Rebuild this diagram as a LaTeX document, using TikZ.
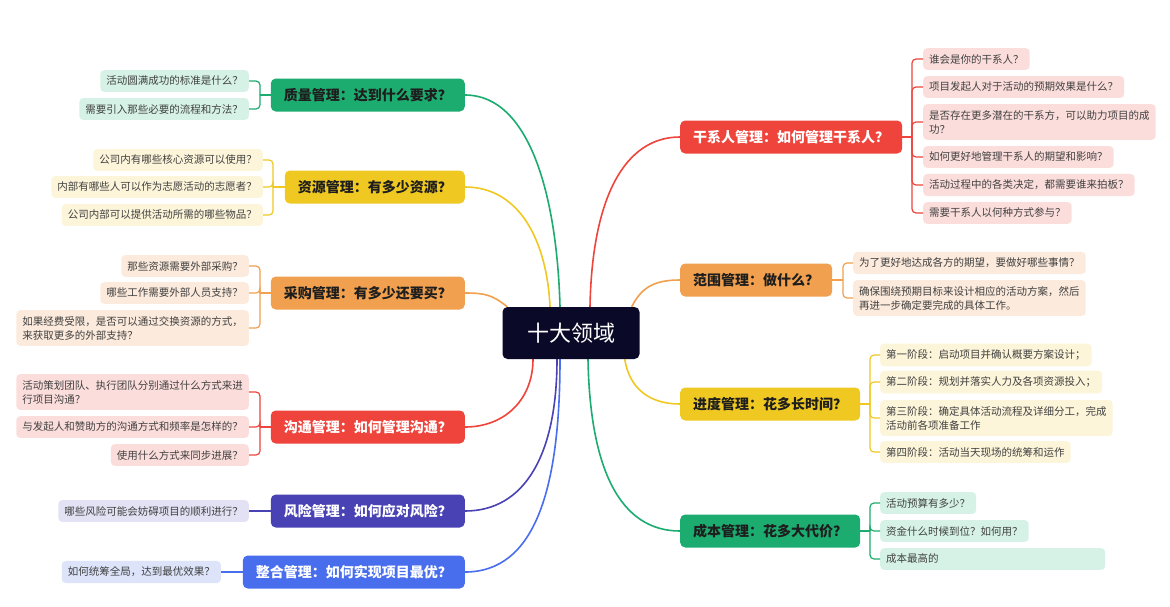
\documentclass[tikz,border=0pt]{standalone}
\usepackage{fontspec}
\setmainfont{Noto Sans CJK SC}
\usepackage{xcolor}
\usepackage{tikz}
\usetikzlibrary{backgrounds}
\definecolor{hubcol}{RGB}{10,10,40}
\definecolor{grn}{RGB}{28,172,112}
\definecolor{grnl}{RGB}{214,242,231}
\definecolor{ylw}{RGB}{240,200,34}
\definecolor{ylwl}{RGB}{253,245,218}
\definecolor{org}{RGB}{240,160,78}
\definecolor{orgl}{RGB}{252,234,220}
\definecolor{rd}{RGB}{238,68,60}
\definecolor{rdl}{RGB}{251,222,220}
\definecolor{ind}{RGB}{72,66,180}
\definecolor{indl}{RGB}{226,226,244}
\definecolor{blu}{RGB}{72,110,238}
\definecolor{blul}{RGB}{221,228,250}
\definecolor{leaftext}{RGB}{64,64,64}
\definecolor{darktext}{RGB}{30,30,30}

\begin{document}
\begin{tikzpicture}[x=1pt, y=-1pt, every node/.style={inner sep=0pt},
  hub/.style={fill=hubcol, text=white, rounded corners=5pt, minimum width=137pt,
    minimum height=52pt, font=\fontsize{22}{26}\selectfont},
  topic/.style={fill=#1, text=darktext, rounded corners=5pt, minimum height=33pt,
    inner xsep=13pt, font=\fontsize{14}{17}\selectfont\bfseries},
  leaf/.style={fill=#1, text=leaftext, rounded corners=4pt, inner xsep=6pt,
    inner ysep=6pt, align=left, font=\fontsize{10.5}{14}\selectfont},
  link/.style={#1, line width=1.6pt},
  brace/.style={#1, line width=1.2pt, rounded corners=4pt}]
\useasboundingbox (0,0) rectangle (1170,606);
\node[hub] (hub) at (571,333) {十大领域};
% left topics
\node[topic=grn, anchor=east] (qual) at (465,95) {质量管理：达到什么要求？};
\node[topic=ylw, anchor=east] (res) at (465,187) {资源管理：有多少资源？};
\node[topic=org, anchor=east] (buy) at (465,293) {采购管理：有多少还要买？};
\node[topic=rd, text=white, anchor=east] (comm) at (465,427) {沟通管理：如何管理沟通？};
\node[topic=ind, text=white, anchor=east] (risk) at (465,511) {风险管理：如何应对风险？};
\node[topic=blu, text=white, anchor=east] (integ) at (465,572) {整合管理：如何实现项目最优？};
% right topics
\node[topic=rd, text=white, anchor=west] (stake) at (680,137) {干系人管理：如何管理干系人？};
\node[topic=org, anchor=west] (range) at (680,280) {范围管理：做什么？};
\node[topic=ylw, anchor=west] (sched) at (680,404) {进度管理：花多长时间？};
\node[topic=grn, anchor=west] (cost) at (680,531) {成本管理：花多大代价？};

% left leaves
\coordinate (qualb) at (260,95);
\draw[brace=grn] (qual.west) -- (qualb);
\foreach \y/\t [count=\i] in {81/活动圆满成功的标准是什么？, 109/需要引入那些必要的流程和方法？} {
  \node[leaf=grnl, anchor=east] (qual\i) at (249,\y) {\t};
  \draw[brace=grn] (qualb) |- (qual\i.east);
}
\coordinate (resb) at (273,187);
\draw[brace=ylw] (res.west) -- (resb);
\foreach \y/\t [count=\i] in {160/公司内有哪些核心资源可以使用？, 187/内部有哪些人可以作为志愿活动的志愿者？,
    215/公司内部可以提供活动所需的哪些物品？} {
  \node[leaf=ylwl, anchor=east] (res\i) at (263,\y) {\t};
  \draw[brace=ylw] (resb) |- (res\i.east);
}
\coordinate (buyb) at (260,293);
\draw[brace=org] (buy.west) -- (buyb);
\foreach \y/\t [count=\i] in {266/那些资源需要外部采购？, 293/哪些工作需要外部人员支持？,
    328/{如果经费受限，是否可以通过交换资源的方式，\\来获取更多的外部支持？}} {
  \node[leaf=orgl, anchor=east] (buy\i) at (249,\y) {\t};
  \draw[brace=org] (buyb) |- (buy\i.east);
}
\coordinate (commb) at (260,427);
\draw[brace=rd] (comm.west) -- (commb);
\foreach \y/\t [count=\i] in {392/{活动策划团队、执行团队分别通过什么方式来进\\行项目沟通？},
    427/与发起人和赞助方的沟通方式和频率是怎样的？, 455/使用什么方式来同步进展？} {
  \node[leaf=rdl, anchor=east] (comm\i) at (249,\y) {\t};
  \draw[brace=rd] (commb) |- (comm\i.east);
}
\node[leaf=indl, anchor=east] (risk1) at (249,511) {哪些风险可能会妨碍项目的顺利进行？};
\draw[brace=ind] (risk.west) -- (risk1.east);
\node[leaf=blul, anchor=east] (integ1) at (221,572) {如何统筹全局，达到最优效果？};
\draw[brace=blu] (integ.west) -- (integ1.east);

% right leaves
\coordinate (stakeb) at (912,137);
\draw[brace=rd] (stake.east) -- (stakeb);
\foreach \y/\t [count=\i] in {59/谁会是你的干系人？, 87/项目发起人对于活动的预期效果是什么？,
    122/{是否存在更多潜在的干系方，可以助力项目的成\\功？}, 157/如何更好地管理干系人的期望和影响？,
    185/活动过程中的各类决定，都需要谁来拍板？, 213/需要干系人以何种方式参与？} {
  \node[leaf=rdl, anchor=west] (stake\i) at (923,\y) {\t};
  \draw[brace=rd] (stakeb) |- (stake\i.west);
}
\coordinate (rangeb) at (843,280);
\draw[brace=org] (range.east) -- (rangeb);
\foreach \y/\t [count=\i] in {263/为了更好地达成各方的期望，要做好哪些事情？,
    298/{确保围绕预期目标来设计相应的活动方案，然后\\再进一步确定要完成的具体工作。}} {
  \node[leaf=orgl, anchor=west] (range\i) at (853,\y) {\t};
  \draw[brace=org] (rangeb) |- (range\i.west);
}
\coordinate (schedb) at (870,404);
\draw[brace=ylw] (sched.east) -- (schedb);
\foreach \y/\t [count=\i] in {355/第一阶段：启动项目并确认概要方案设计；, 382/第二阶段：规划并落实人力及各项资源投入；,
    418/{第三阶段：确定具体活动流程及详细分工，完成\\活动前各项准备工作}, 452/第四阶段：活动当天现场的统筹和运作} {
  \node[leaf=ylwl, anchor=west] (sched\i) at (880,\y) {\t};
  \draw[brace=ylw] (schedb) |- (sched\i.west);
}
\coordinate (costb) at (870,531);
\draw[brace=grn] (cost.east) -- (costb);
\foreach \y/\t [count=\i] in {503/活动预算有多少？, 531/资金什么时候到位？如何用？} {
  \node[leaf=grnl, anchor=west] (cost\i) at (880,\y) {\t};
  \draw[brace=grn] (costb) |- (cost\i.west);
}
\node[leaf=grnl, anchor=west, text width=213pt] (cost3) at (880,559) {成本最高的};
\draw[brace=grn] (costb) |- (cost3.west);

% branches from the hub
\begin{scope}[on background layer]
\fill[white] (0,0) rectangle (1170,606);
\draw[link=grn] ([xshift=-11pt]hub.north) .. controls +(-3,-110) and +(65,0) .. (qual.east);
\draw[link=ylw] ([xshift=-21pt]hub.north) .. controls +(-3,-65) and +(55,0) .. (res.east);
\draw[link=org] ([xshift=5pt]hub.north west) .. controls +(-15,-12) and +(20,0) .. (buy.east);
\draw[link=rd] ([xshift=-38pt]hub.south) .. controls +(0,40) and +(40,0) .. (comm.east);
\draw[link=ind] ([xshift=-14pt]hub.south) .. controls +(0,95) and +(60,0) .. (risk.east);
\draw[link=blu] ([xshift=-11pt]hub.south) .. controls +(0,130) and +(70,0) .. (integ.east);
\draw[link=rd] ([xshift=19pt]hub.north) .. controls +(2,-110) and +(-55,0) .. (stake.west);
\draw[link=org] ([xshift=-8pt]hub.north east) .. controls +(10,-20) and +(-25,0) .. (range.west);
\draw[link=ylw] ([xshift=-15pt]hub.south east) .. controls +(5,30) and +(-30,0) .. (sched.west);
\draw[link=grn] ([xshift=17pt]hub.south) .. controls +(2,110) and +(-60,0) .. (cost.west);
\end{scope}
\end{tikzpicture}
\end{document}
